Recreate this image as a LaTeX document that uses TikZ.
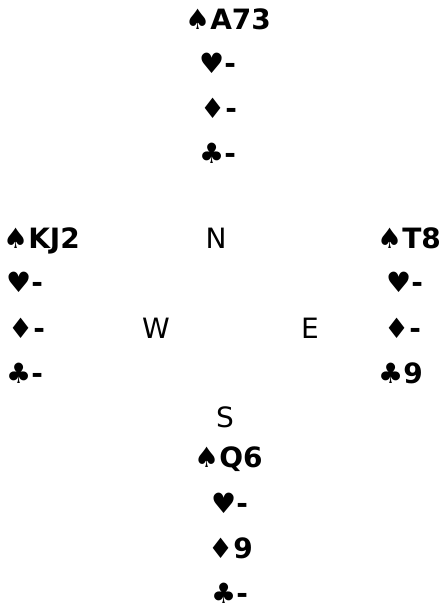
\documentclass[tikz,border=0pt]{standalone}
\usepackage{fontspec}
\setmainfont{DejaVu Sans}
\usepackage{tikz}
\usetikzlibrary{positioning}

\begin{document}
\begin{tikzpicture}[x=1pt,y=-1pt,
      hand/.style={anchor=west,inner sep=0pt,font=\fontsize{28}{30}\selectfont\bfseries,
                   text height=20.4pt,text depth=0pt},
      seat/.style={inner sep=0pt,font=\fontsize{28}{30}\selectfont,
                   text height=20.4pt,text depth=0pt}]
    \useasboundingbox (0,0) rectangle (446,609);
    % north hand
    \node[hand] (ns) at (185,19) {♠A73};
    \node[hand] (nh) at (199,63) {♥-};
    \node[hand] (nd) at (200,108) {♦-};
    \node[hand] (nc) at (199,153) {♣-};
    % west hand
    \node[hand] (ws) at (3,238) {♠KJ2};
    \node[hand] (wh) at (6,282) {♥-};
    \node[hand] (wd) at (8,328) {♦-};
    \node[hand] (wc) at (6,373) {♣-};
    % east hand
    \node[hand] (es) at (377,238) {♠T8};
    \node[hand] (eh) at (386,282) {♥-};
    \node[hand] (ed) at (384,328) {♦-};
    \node[hand] (ec) at (378,373) {♣9};
    % compass
    \node[seat] (north) at (216,238) {N};
    \node[seat] (west) at (156,328) {W};
    \node[seat] (east) at (310,328) {E};
    \node[seat] (south) at (225,417) {S};
    % south hand
    \node[hand] (ss) at (194,457) {♠Q6};
    \node[hand] (sh) at (211,503) {♥-};
    \node[hand] (sd) at (208,548) {♦9};
    \node[hand] (sc) at (211,593) {♣-};
  \end{tikzpicture}
\end{document}
